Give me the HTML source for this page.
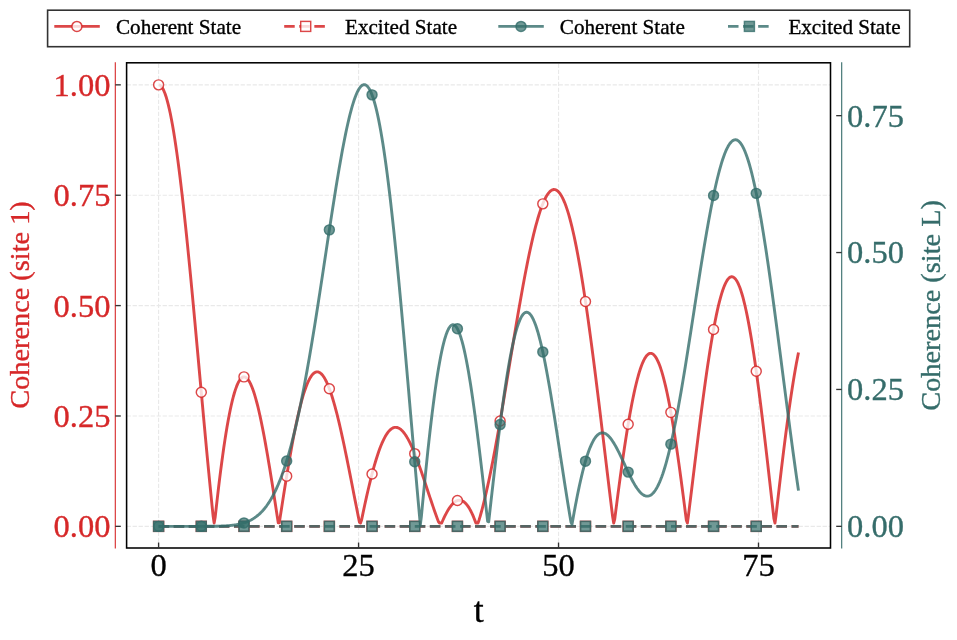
<!DOCTYPE html>
<html><head><meta charset="utf-8"><title>Coherence</title>
<style>html,body{margin:0;padding:0;background:#fff}svg{display:block}text{font-family:"Liberation Serif", "Times New Roman", serif;stroke-width:0.35px;paint-order:stroke fill}</style></head>
<body><svg width="957" height="640" viewBox="0 0 957 640">
<rect width="957" height="640" fill="#fff"/>
<g stroke="#e9e9e9" stroke-width="1.13" stroke-dasharray="4.3 1.7" fill="none">
<path d="M158.60,548.0 V62.8"/>
<path d="M358.57,548.0 V62.8"/>
<path d="M558.53,548.0 V62.8"/>
<path d="M758.50,548.0 V62.8"/>
<path d="M126.6,526.35 H830.5"/>
<path d="M126.6,415.98 H830.5"/>
<path d="M126.6,305.60 H830.5"/>
<path d="M126.6,195.23 H830.5"/>
<path d="M126.6,84.85 H830.5"/>
</g>
<g fill="none" stroke-linejoin="round" stroke-linecap="butt" stroke-width="2.9">
<path d="M158.60,84.85 L159.67,85.09 L160.74,85.82 L161.80,87.04 L162.87,88.74 L163.94,90.92 L165.01,93.57 L166.08,96.70 L167.15,100.29 L168.21,104.35 L169.28,108.86 L170.35,113.81 L171.42,119.20 L172.49,125.01 L173.56,131.25 L174.62,137.89 L175.69,144.92 L176.76,152.34 L177.83,160.12 L178.90,168.27 L179.97,176.75 L181.03,185.56 L182.10,194.69 L183.17,204.11 L184.24,213.82 L185.31,223.78 L186.38,234.00 L187.44,244.44 L188.51,255.10 L189.58,265.95 L190.65,276.97 L191.72,288.16 L192.78,299.48 L193.85,310.92 L194.92,322.46 L195.99,334.08 L197.06,345.77 L198.13,357.50 L199.19,369.25 L200.26,381.00 L201.33,392.75 L202.40,404.45 L203.47,416.11 L204.54,427.70 L205.60,439.19 L206.67,450.58 L207.74,461.84 L208.81,472.96 L209.88,483.92 L210.95,494.71 L212.01,505.30 L213.08,515.68 L214.15,523.04 L215.22,516.94 L216.29,507.28 L217.36,497.88 L218.42,488.77 L219.49,479.94 L220.56,471.42 L221.63,463.22 L222.70,455.35 L223.76,447.81 L224.83,440.63 L225.90,433.79 L226.97,427.32 L228.04,421.22 L229.11,415.50 L230.17,410.17 L231.24,405.21 L232.31,400.66 L233.38,396.50 L234.45,392.73 L235.52,389.37 L236.58,386.41 L237.65,383.85 L238.72,381.69 L239.79,379.93 L240.86,378.58 L241.93,377.62 L242.99,377.05 L244.06,376.87 L245.13,377.08 L246.20,377.66 L247.27,378.62 L248.33,379.95 L249.40,381.63 L250.47,383.67 L251.54,386.05 L252.61,388.76 L253.68,391.80 L254.74,395.15 L255.81,398.80 L256.88,402.75 L257.95,406.98 L259.02,411.48 L260.09,416.23 L261.15,421.23 L262.22,426.45 L263.29,431.90 L264.36,437.55 L265.43,443.38 L266.50,449.40 L267.56,455.57 L268.63,461.89 L269.70,468.34 L270.77,474.91 L271.84,481.58 L272.91,488.33 L273.97,495.16 L275.04,502.04 L276.11,508.97 L277.18,515.92 L278.25,522.89 L279.31,522.85 L280.38,515.90 L281.45,508.99 L282.52,502.12 L283.59,495.31 L284.66,488.57 L285.72,481.92 L286.79,475.37 L287.86,468.93 L288.93,462.62 L290.00,456.44 L291.07,450.41 L292.13,444.53 L293.20,438.83 L294.27,433.31 L295.34,427.98 L296.41,422.85 L297.48,417.92 L298.54,413.22 L299.61,408.74 L300.68,404.49 L301.75,400.47 L302.82,396.71 L303.89,393.19 L304.95,389.93 L306.02,386.93 L307.09,384.20 L308.16,381.73 L309.23,379.54 L310.29,377.61 L311.36,375.97 L312.43,374.60 L313.50,373.50 L314.57,372.69 L315.64,372.15 L316.70,371.88 L317.77,371.89 L318.84,372.17 L319.91,372.72 L320.98,373.54 L322.05,374.62 L323.11,375.96 L324.18,377.55 L325.25,379.39 L326.32,381.48 L327.39,383.80 L328.46,386.35 L329.52,389.13 L330.59,392.13 L331.66,395.33 L332.73,398.74 L333.80,402.34 L334.87,406.13 L335.93,410.10 L337.00,414.23 L338.07,418.52 L339.14,422.96 L340.21,427.54 L341.27,432.25 L342.34,437.08 L343.41,442.02 L344.48,447.06 L345.55,452.19 L346.62,457.40 L347.68,462.68 L348.75,468.01 L349.82,473.39 L350.89,478.80 L351.96,484.25 L353.03,489.71 L354.09,495.17 L355.16,500.63 L356.23,506.07 L357.30,511.49 L358.37,516.87 L359.44,522.21 L360.50,523.04 L361.57,519.99 L362.64,514.84 L363.71,509.78 L364.78,504.80 L365.85,499.93 L366.91,495.16 L367.98,490.51 L369.05,485.98 L370.12,481.58 L371.19,477.32 L372.25,473.20 L373.32,469.22 L374.39,465.41 L375.46,461.75 L376.53,458.26 L377.60,454.95 L378.66,451.80 L379.73,448.84 L380.80,446.06 L381.87,443.46 L382.94,441.05 L384.01,438.84 L385.07,436.81 L386.14,434.98 L387.21,433.35 L388.28,431.91 L389.35,430.67 L390.42,429.63 L391.48,428.78 L392.55,428.13 L393.62,427.67 L394.69,427.40 L395.76,427.33 L396.83,427.44 L397.89,427.74 L398.96,428.22 L400.03,428.89 L401.10,429.72 L402.17,430.73 L403.23,431.90 L404.30,433.24 L405.37,434.73 L406.44,436.38 L407.51,438.17 L408.58,440.10 L409.64,442.17 L410.71,444.36 L411.78,446.67 L412.85,449.10 L413.92,451.64 L414.99,454.28 L416.05,457.01 L417.12,459.82 L418.19,462.71 L419.26,465.68 L420.33,468.70 L421.40,471.78 L422.46,474.91 L423.53,478.07 L424.60,481.26 L425.67,484.48 L426.74,487.71 L427.80,490.94 L428.87,494.17 L429.94,497.39 L431.01,500.58 L432.08,503.75 L433.15,506.89 L434.21,509.98 L435.28,513.02 L436.35,515.99 L437.42,518.90 L438.49,521.74 L439.56,523.04 L440.62,523.04 L441.69,522.98 L442.76,520.52 L443.83,518.17 L444.90,515.94 L445.97,513.83 L447.03,511.86 L448.10,510.02 L449.17,508.32 L450.24,506.76 L451.31,505.36 L452.38,504.12 L453.44,503.04 L454.51,502.13 L455.58,501.39 L456.65,500.82 L457.72,500.43 L458.78,500.22 L459.85,500.19 L460.92,500.36 L461.99,500.71 L463.06,501.25 L464.13,501.99 L465.19,502.92 L466.26,504.04 L467.33,505.37 L468.40,506.89 L469.47,508.60 L470.54,510.52 L471.60,512.62 L472.67,514.93 L473.74,517.43 L474.81,520.12 L475.88,523.00 L476.95,523.04 L478.01,523.04 L479.08,519.93 L480.15,516.30 L481.22,512.50 L482.29,508.53 L483.36,504.39 L484.42,500.08 L485.49,495.60 L486.56,490.97 L487.63,486.19 L488.70,481.26 L489.76,476.19 L490.83,470.99 L491.90,465.65 L492.97,460.19 L494.04,454.61 L495.11,448.92 L496.17,443.13 L497.24,437.24 L498.31,431.25 L499.38,425.19 L500.45,419.04 L501.52,412.83 L502.58,406.56 L503.65,400.23 L504.72,393.86 L505.79,387.45 L506.86,381.01 L507.93,374.55 L508.99,368.08 L510.06,361.60 L511.13,355.12 L512.20,348.66 L513.27,342.22 L514.34,335.80 L515.40,329.42 L516.47,323.09 L517.54,316.81 L518.61,310.60 L519.68,304.45 L520.74,298.39 L521.81,292.41 L522.88,286.52 L523.95,280.74 L525.02,275.07 L526.09,269.52 L527.15,264.10 L528.22,258.81 L529.29,253.67 L530.36,248.68 L531.43,243.84 L532.50,239.17 L533.56,234.67 L534.63,230.34 L535.70,226.21 L536.77,222.26 L537.84,218.51 L538.91,214.97 L539.97,211.63 L541.04,208.51 L542.11,205.61 L543.18,202.94 L544.25,200.49 L545.32,198.28 L546.38,196.31 L547.45,194.59 L548.52,193.11 L549.59,191.88 L550.66,190.91 L551.72,190.19 L552.79,189.74 L553.86,189.54 L554.93,189.62 L556.00,189.95 L557.07,190.56 L558.13,191.43 L559.20,192.57 L560.27,193.98 L561.34,195.67 L562.41,197.62 L563.48,199.84 L564.54,202.33 L565.61,205.09 L566.68,208.11 L567.75,211.40 L568.82,214.95 L569.89,218.76 L570.95,222.82 L572.02,227.14 L573.09,231.71 L574.16,236.52 L575.23,241.58 L576.30,246.87 L577.36,252.40 L578.43,258.15 L579.50,264.12 L580.57,270.31 L581.64,276.71 L582.70,283.31 L583.77,290.11 L584.84,297.10 L585.91,304.27 L586.98,311.62 L588.05,319.13 L589.11,326.80 L590.18,334.63 L591.25,342.59 L592.32,350.69 L593.39,358.91 L594.46,367.24 L595.52,375.68 L596.59,384.21 L597.66,392.83 L598.73,401.53 L599.80,410.29 L600.87,419.10 L601.93,427.96 L603.00,436.85 L604.07,445.76 L605.14,454.68 L606.21,463.60 L607.27,472.52 L608.34,481.40 L609.41,490.26 L610.48,499.07 L611.55,507.83 L612.62,516.51 L613.68,523.04 L614.75,519.06 L615.82,510.64 L616.89,502.34 L617.96,494.16 L619.03,486.11 L620.09,478.21 L621.16,470.46 L622.23,462.88 L623.30,455.48 L624.37,448.27 L625.44,441.25 L626.50,434.44 L627.57,427.85 L628.64,421.48 L629.71,415.35 L630.78,409.46 L631.85,403.83 L632.91,398.46 L633.98,393.36 L635.05,388.53 L636.12,383.99 L637.19,379.74 L638.25,375.78 L639.32,372.13 L640.39,368.79 L641.46,365.76 L642.53,363.06 L643.60,360.67 L644.66,358.62 L645.73,356.89 L646.80,355.50 L647.87,354.45 L648.94,353.74 L650.01,353.37 L651.07,353.33 L652.14,353.64 L653.21,354.30 L654.28,355.29 L655.35,356.63 L656.42,358.30 L657.48,360.31 L658.55,362.66 L659.62,365.33 L660.69,368.34 L661.76,371.66 L662.83,375.31 L663.89,379.27 L664.96,383.53 L666.03,388.10 L667.10,392.96 L668.17,398.11 L669.23,403.54 L670.30,409.23 L671.37,415.19 L672.44,421.41 L673.51,427.86 L674.58,434.55 L675.64,441.46 L676.71,448.58 L677.78,455.90 L678.85,463.41 L679.92,471.10 L680.99,478.95 L682.05,486.95 L683.12,495.08 L684.19,503.34 L685.26,511.72 L686.33,520.18 L687.40,523.04 L688.46,515.35 L689.53,506.68 L690.60,497.97 L691.67,489.23 L692.74,480.49 L693.81,471.75 L694.87,463.04 L695.94,454.36 L697.01,445.73 L698.08,437.17 L699.15,428.68 L700.21,420.30 L701.28,412.02 L702.35,403.87 L703.42,395.86 L704.49,388.01 L705.56,380.32 L706.62,372.82 L707.69,365.51 L708.76,358.41 L709.83,351.53 L710.90,344.89 L711.97,338.49 L713.03,332.36 L714.10,326.49 L715.17,320.90 L716.24,315.61 L717.31,310.62 L718.38,305.94 L719.44,301.58 L720.51,297.55 L721.58,293.85 L722.65,290.50 L723.72,287.51 L724.79,284.86 L725.85,282.59 L726.92,280.68 L727.99,279.14 L729.06,277.98 L730.13,277.19 L731.19,276.79 L732.26,276.77 L733.33,277.13 L734.40,277.88 L735.47,279.01 L736.54,280.52 L737.60,282.41 L738.67,284.68 L739.74,287.33 L740.81,290.35 L741.88,293.73 L742.95,297.47 L744.01,301.57 L745.08,306.01 L746.15,310.80 L747.22,315.92 L748.29,321.37 L749.36,327.13 L750.42,333.20 L751.49,339.56 L752.56,346.21 L753.63,353.13 L754.70,360.32 L755.77,367.75 L756.83,375.43 L757.90,383.32 L758.97,391.43 L760.04,399.74 L761.11,408.22 L762.17,416.88 L763.24,425.69 L764.31,434.63 L765.38,443.70 L766.45,452.88 L767.52,462.14 L768.58,471.48 L769.65,480.88 L770.72,490.32 L771.79,499.79 L772.86,509.27 L773.93,518.74 L774.99,523.04 L776.06,515.10 L777.13,505.75 L778.20,496.46 L779.27,487.27 L780.34,478.17 L781.40,469.19 L782.47,460.35 L783.54,451.65 L784.61,443.11 L785.68,434.75 L786.74,426.57 L787.81,418.60 L788.88,410.85 L789.95,403.32 L791.02,396.03 L792.09,388.99 L793.15,382.21 L794.22,375.71 L795.29,369.48 L796.36,363.55 L797.43,357.91 L798.50,352.58" stroke="#d62728" stroke-opacity="0.85"/>
<path d="M158.60,526.35 H798.50" stroke="#d62728" stroke-opacity="0.85" stroke-dasharray="10.52 4.55"/>
</g>
<g fill="#fff" fill-opacity="0.8" stroke="#d62728" stroke-opacity="0.85" stroke-width="1.45">
<circle cx="158.60" cy="84.85" r="5.0"/>
<circle cx="201.29" cy="392.29" r="5.0"/>
<circle cx="243.98" cy="376.87" r="5.0"/>
<circle cx="286.67" cy="476.14" r="5.0"/>
<circle cx="329.36" cy="388.68" r="5.0"/>
<circle cx="372.05" cy="473.99" r="5.0"/>
<circle cx="414.73" cy="453.65" r="5.0"/>
<circle cx="457.42" cy="500.52" r="5.0"/>
<circle cx="500.11" cy="420.98" r="5.0"/>
<circle cx="542.80" cy="203.85" r="5.0"/>
<circle cx="585.49" cy="301.44" r="5.0"/>
<circle cx="628.18" cy="424.20" r="5.0"/>
<circle cx="670.87" cy="412.36" r="5.0"/>
<circle cx="713.56" cy="329.44" r="5.0"/>
<circle cx="756.25" cy="371.19" r="5.0"/>
<rect x="153.60" y="521.35" width="10" height="10"/>
<rect x="196.29" y="521.35" width="10" height="10"/>
<rect x="238.98" y="521.35" width="10" height="10"/>
<rect x="281.67" y="521.35" width="10" height="10"/>
<rect x="324.36" y="521.35" width="10" height="10"/>
<rect x="367.05" y="521.35" width="10" height="10"/>
<rect x="409.73" y="521.35" width="10" height="10"/>
<rect x="452.42" y="521.35" width="10" height="10"/>
<rect x="495.11" y="521.35" width="10" height="10"/>
<rect x="537.80" y="521.35" width="10" height="10"/>
<rect x="580.49" y="521.35" width="10" height="10"/>
<rect x="623.18" y="521.35" width="10" height="10"/>
<rect x="665.87" y="521.35" width="10" height="10"/>
<rect x="708.56" y="521.35" width="10" height="10"/>
<rect x="751.25" y="521.35" width="10" height="10"/>
</g>
<g fill="none" stroke-linejoin="round" stroke-linecap="butt" stroke-width="2.9">
<path d="M158.60,526.35 L159.67,526.35 L160.74,526.35 L161.80,526.35 L162.87,526.35 L163.94,526.35 L165.01,526.35 L166.08,526.35 L167.15,526.35 L168.21,526.35 L169.28,526.35 L170.35,526.35 L171.42,526.35 L172.49,526.35 L173.56,526.35 L174.62,526.35 L175.69,526.35 L176.76,526.35 L177.83,526.35 L178.90,526.35 L179.97,526.35 L181.03,526.35 L182.10,526.35 L183.17,526.35 L184.24,526.35 L185.31,526.35 L186.38,526.35 L187.44,526.35 L188.51,526.35 L189.58,526.35 L190.65,526.35 L191.72,526.35 L192.78,526.35 L193.85,526.35 L194.92,526.35 L195.99,526.35 L197.06,526.35 L198.13,526.34 L199.19,526.34 L200.26,526.34 L201.33,526.34 L202.40,526.34 L203.47,526.33 L204.54,526.33 L205.60,526.33 L206.67,526.32 L207.74,526.32 L208.81,526.31 L209.88,526.30 L210.95,526.29 L212.01,526.28 L213.08,526.27 L214.15,526.25 L215.22,526.23 L216.29,526.21 L217.36,526.19 L218.42,526.16 L219.49,526.13 L220.56,526.10 L221.63,526.06 L222.70,526.02 L223.76,525.97 L224.83,525.91 L225.90,525.85 L226.97,525.78 L228.04,525.70 L229.11,525.62 L230.17,525.52 L231.24,525.41 L232.31,525.29 L233.38,525.16 L234.45,525.02 L235.52,524.86 L236.58,524.68 L237.65,524.48 L238.72,524.27 L239.79,524.04 L240.86,523.78 L241.93,523.51 L242.99,523.20 L244.06,522.87 L245.13,522.51 L246.20,522.13 L247.27,521.71 L248.33,521.25 L249.40,520.76 L250.47,520.23 L251.54,519.66 L252.61,519.05 L253.68,518.39 L254.74,517.69 L255.81,516.93 L256.88,516.12 L257.95,515.25 L259.02,514.33 L260.09,513.35 L261.15,512.30 L262.22,511.19 L263.29,510.00 L264.36,508.75 L265.43,507.41 L266.50,506.01 L267.56,504.51 L268.63,502.94 L269.70,501.28 L270.77,499.53 L271.84,497.68 L272.91,495.74 L273.97,493.70 L275.04,491.56 L276.11,489.31 L277.18,486.96 L278.25,484.49 L279.31,481.92 L280.38,479.23 L281.45,476.42 L282.52,473.49 L283.59,470.44 L284.66,467.27 L285.72,463.97 L286.79,460.54 L287.86,456.98 L288.93,453.30 L290.00,449.48 L291.07,445.53 L292.13,441.44 L293.20,437.22 L294.27,432.87 L295.34,428.38 L296.41,423.76 L297.48,419.01 L298.54,414.12 L299.61,409.09 L300.68,403.94 L301.75,398.66 L302.82,393.25 L303.89,387.71 L304.95,382.06 L306.02,376.28 L307.09,370.38 L308.16,364.37 L309.23,358.25 L310.29,352.03 L311.36,345.70 L312.43,339.28 L313.50,332.77 L314.57,326.17 L315.64,319.50 L316.70,312.75 L317.77,305.93 L318.84,299.05 L319.91,292.12 L320.98,285.15 L322.05,278.14 L323.11,271.10 L324.18,264.04 L325.25,256.97 L326.32,249.90 L327.39,242.84 L328.46,235.79 L329.52,228.78 L330.59,221.79 L331.66,214.86 L332.73,207.99 L333.80,201.18 L334.87,194.46 L335.93,187.83 L337.00,181.30 L338.07,174.88 L339.14,168.59 L340.21,162.44 L341.27,156.44 L342.34,150.60 L343.41,144.93 L344.48,139.44 L345.55,134.15 L346.62,129.07 L347.68,124.21 L348.75,119.58 L349.82,115.19 L350.89,111.05 L351.96,107.17 L353.03,103.57 L354.09,100.25 L355.16,97.22 L356.23,94.50 L357.30,92.09 L358.37,90.01 L359.44,88.25 L360.50,86.83 L361.57,85.76 L362.64,85.04 L363.71,84.68 L364.78,84.69 L365.85,85.07 L366.91,85.83 L367.98,86.96 L369.05,88.49 L370.12,90.40 L371.19,92.71 L372.25,95.41 L373.32,98.51 L374.39,102.00 L375.46,105.89 L376.53,110.17 L377.60,114.85 L378.66,119.92 L379.73,125.38 L380.80,131.22 L381.87,137.45 L382.94,144.05 L384.01,151.02 L385.07,158.36 L386.14,166.06 L387.21,174.10 L388.28,182.49 L389.35,191.20 L390.42,200.24 L391.48,209.59 L392.55,219.24 L393.62,229.17 L394.69,239.38 L395.76,249.85 L396.83,260.56 L397.89,271.51 L398.96,282.68 L400.03,294.04 L401.10,305.60 L402.17,317.32 L403.23,329.19 L404.30,341.20 L405.37,353.33 L406.44,365.55 L407.51,377.86 L408.58,390.22 L409.64,402.63 L410.71,415.06 L411.78,427.49 L412.85,439.91 L413.92,452.30 L414.99,464.63 L416.05,476.88 L417.12,489.04 L418.19,501.08 L419.26,513.00 L420.33,524.71 L421.40,516.36 L422.46,504.96 L423.53,493.77 L424.60,482.81 L425.67,472.09 L426.74,461.64 L427.80,451.47 L428.87,441.59 L429.94,432.03 L431.01,422.79 L432.08,413.90 L433.15,405.37 L434.21,397.20 L435.28,389.42 L436.35,382.04 L437.42,375.07 L438.49,368.51 L439.56,362.38 L440.62,356.69 L441.69,351.45 L442.76,346.66 L443.83,342.33 L444.90,338.47 L445.97,335.08 L447.03,332.16 L448.10,329.73 L449.17,327.77 L450.24,326.29 L451.31,325.29 L452.38,324.78 L453.44,324.74 L454.51,325.18 L455.58,326.09 L456.65,327.47 L457.72,329.32 L458.78,331.62 L459.85,334.36 L460.92,337.55 L461.99,341.17 L463.06,345.21 L464.13,349.66 L465.19,354.51 L466.26,359.75 L467.33,365.37 L468.40,371.34 L469.47,377.66 L470.54,384.31 L471.60,391.27 L472.67,398.54 L473.74,406.08 L474.81,413.90 L475.88,421.95 L476.95,430.24 L478.01,438.74 L479.08,447.42 L480.15,456.28 L481.22,465.29 L482.29,474.43 L483.36,483.69 L484.42,493.04 L485.49,502.46 L486.56,511.93 L487.63,521.43 L488.70,521.76 L489.76,512.25 L490.83,502.78 L491.90,493.35 L492.97,484.00 L494.04,474.73 L495.11,465.56 L496.17,456.52 L497.24,447.63 L498.31,438.90 L499.38,430.34 L500.45,421.98 L501.52,413.84 L502.58,405.92 L503.65,398.24 L504.72,390.82 L505.79,383.67 L506.86,376.81 L507.93,370.25 L508.99,363.99 L510.06,358.05 L511.13,352.44 L512.20,347.17 L513.27,342.25 L514.34,337.69 L515.40,333.48 L516.47,329.65 L517.54,326.19 L518.61,323.10 L519.68,320.40 L520.74,318.08 L521.81,316.15 L522.88,314.60 L523.95,313.44 L525.02,312.67 L526.09,312.27 L527.15,312.26 L528.22,312.63 L529.29,313.37 L530.36,314.48 L531.43,315.95 L532.50,317.77 L533.56,319.95 L534.63,322.46 L535.70,325.31 L536.77,328.48 L537.84,331.96 L538.91,335.75 L539.97,339.82 L541.04,344.17 L542.11,348.79 L543.18,353.67 L544.25,358.79 L545.32,364.13 L546.38,369.69 L547.45,375.44 L548.52,381.39 L549.59,387.50 L550.66,393.77 L551.72,400.17 L552.79,406.71 L553.86,413.35 L554.93,420.09 L556.00,426.90 L557.07,433.78 L558.13,440.70 L559.20,447.66 L560.27,454.64 L561.34,461.61 L562.41,468.58 L563.48,475.51 L564.54,482.41 L565.61,489.25 L566.68,496.01 L567.75,502.70 L568.82,509.29 L569.89,515.77 L570.95,522.13 L572.02,524.34 L573.09,518.25 L574.16,512.32 L575.23,506.56 L576.30,500.96 L577.36,495.55 L578.43,490.34 L579.50,485.32 L580.57,480.50 L581.64,475.90 L582.70,471.52 L583.77,467.36 L584.84,463.43 L585.91,459.74 L586.98,456.28 L588.05,453.05 L589.11,450.07 L590.18,447.33 L591.25,444.83 L592.32,442.58 L593.39,440.56 L594.46,438.79 L595.52,437.25 L596.59,435.95 L597.66,434.88 L598.73,434.04 L599.80,433.42 L600.87,433.02 L601.93,432.84 L603.00,432.86 L604.07,433.09 L605.14,433.51 L606.21,434.11 L607.27,434.90 L608.34,435.85 L609.41,436.97 L610.48,438.24 L611.55,439.65 L612.62,441.20 L613.68,442.87 L614.75,444.65 L615.82,446.53 L616.89,448.51 L617.96,450.56 L619.03,452.69 L620.09,454.87 L621.16,457.10 L622.23,459.37 L623.30,461.66 L624.37,463.96 L625.44,466.26 L626.50,468.55 L627.57,470.82 L628.64,473.06 L629.71,475.26 L630.78,477.39 L631.85,479.47 L632.91,481.46 L633.98,483.37 L635.05,485.19 L636.12,486.89 L637.19,488.49 L638.25,489.95 L639.32,491.28 L640.39,492.47 L641.46,493.51 L642.53,494.38 L643.60,495.10 L644.66,495.63 L645.73,495.99 L646.80,496.16 L647.87,496.14 L648.94,495.93 L650.01,495.51 L651.07,494.89 L652.14,494.05 L653.21,493.01 L654.28,491.74 L655.35,490.26 L656.42,488.56 L657.48,486.64 L658.55,484.50 L659.62,482.14 L660.69,479.55 L661.76,476.74 L662.83,473.72 L663.89,470.47 L664.96,467.01 L666.03,463.34 L667.10,459.46 L668.17,455.37 L669.23,451.08 L670.30,446.60 L671.37,441.92 L672.44,437.05 L673.51,432.01 L674.58,426.79 L675.64,421.40 L676.71,415.85 L677.78,410.15 L678.85,404.31 L679.92,398.32 L680.99,392.21 L682.05,385.98 L683.12,379.63 L684.19,373.19 L685.26,366.65 L686.33,360.03 L687.40,353.33 L688.46,346.57 L689.53,339.76 L690.60,332.91 L691.67,326.02 L692.74,319.12 L693.81,312.20 L694.87,305.28 L695.94,298.38 L697.01,291.49 L698.08,284.64 L699.15,277.83 L700.21,271.08 L701.28,264.39 L702.35,257.78 L703.42,251.25 L704.49,244.82 L705.56,238.50 L706.62,232.29 L707.69,226.21 L708.76,220.27 L709.83,214.47 L710.90,208.83 L711.97,203.36 L713.03,198.06 L714.10,192.94 L715.17,188.02 L716.24,183.29 L717.31,178.78 L718.38,174.48 L719.44,170.40 L720.51,166.55 L721.58,162.93 L722.65,159.56 L723.72,156.44 L724.79,153.57 L725.85,150.96 L726.92,148.62 L727.99,146.54 L729.06,144.73 L730.13,143.20 L731.19,141.95 L732.26,140.98 L733.33,140.29 L734.40,139.89 L735.47,139.77 L736.54,139.94 L737.60,140.41 L738.67,141.16 L739.74,142.20 L740.81,143.52 L741.88,145.14 L742.95,147.04 L744.01,149.22 L745.08,151.68 L746.15,154.43 L747.22,157.44 L748.29,160.73 L749.36,164.29 L750.42,168.11 L751.49,172.19 L752.56,176.52 L753.63,181.11 L754.70,185.93 L755.77,190.99 L756.83,196.28 L757.90,201.80 L758.97,207.53 L760.04,213.47 L761.11,219.62 L762.17,225.95 L763.24,232.48 L764.31,239.18 L765.38,246.05 L766.45,253.08 L767.52,260.26 L768.58,267.58 L769.65,275.04 L770.72,282.62 L771.79,290.31 L772.86,298.11 L773.93,306.00 L774.99,313.97 L776.06,322.02 L777.13,330.14 L778.20,338.30 L779.27,346.52 L780.34,354.76 L781.40,363.03 L782.47,371.32 L783.54,379.60 L784.61,387.89 L785.68,396.15 L786.74,404.39 L787.81,412.60 L788.88,420.76 L789.95,428.86 L791.02,436.90 L792.09,444.87 L793.15,452.75 L794.22,460.55 L795.29,468.24 L796.36,475.83 L797.43,483.30 L798.50,490.64" stroke="#336d6a" stroke-opacity="0.8"/>
<path d="M158.60,526.35 H798.50" stroke="#336d6a" stroke-opacity="0.8" stroke-dasharray="10.52 4.55"/>
</g>
<g fill="#336d6a" fill-opacity="0.7" stroke="#336d6a" stroke-opacity="0.8" stroke-width="1.45">
<circle cx="158.60" cy="526.35" r="5.0"/>
<circle cx="201.29" cy="526.34" r="5.0"/>
<circle cx="243.98" cy="522.90" r="5.0"/>
<circle cx="286.67" cy="460.95" r="5.0"/>
<circle cx="329.36" cy="229.87" r="5.0"/>
<circle cx="372.05" cy="94.85" r="5.0"/>
<circle cx="414.73" cy="461.73" r="5.0"/>
<circle cx="457.42" cy="328.77" r="5.0"/>
<circle cx="500.11" cy="424.58" r="5.0"/>
<circle cx="542.80" cy="351.92" r="5.0"/>
<circle cx="585.49" cy="461.16" r="5.0"/>
<circle cx="628.18" cy="472.10" r="5.0"/>
<circle cx="670.87" cy="444.14" r="5.0"/>
<circle cx="713.56" cy="195.53" r="5.0"/>
<circle cx="756.25" cy="193.35" r="5.0"/>
<rect x="153.60" y="521.35" width="10" height="10"/>
<rect x="196.29" y="521.35" width="10" height="10"/>
<rect x="238.98" y="521.35" width="10" height="10"/>
<rect x="281.67" y="521.35" width="10" height="10"/>
<rect x="324.36" y="521.35" width="10" height="10"/>
<rect x="367.05" y="521.35" width="10" height="10"/>
<rect x="409.73" y="521.35" width="10" height="10"/>
<rect x="452.42" y="521.35" width="10" height="10"/>
<rect x="495.11" y="521.35" width="10" height="10"/>
<rect x="537.80" y="521.35" width="10" height="10"/>
<rect x="580.49" y="521.35" width="10" height="10"/>
<rect x="623.18" y="521.35" width="10" height="10"/>
<rect x="665.87" y="521.35" width="10" height="10"/>
<rect x="708.56" y="521.35" width="10" height="10"/>
<rect x="751.25" y="521.35" width="10" height="10"/>
</g>
<rect x="126.6" y="62.8" width="703.90" height="485.20" fill="none" stroke="#000" stroke-width="1.55"/>
<path d="M115.3,62.199999999999996 V548.6" stroke="#d62728" stroke-width="1.1"/>
<path d="M841.7,62.199999999999996 V548.6" stroke="#356c6a" stroke-width="1.1"/>
<g stroke="#333" stroke-width="1.35">
<path d="M158.60,548.0 v-5.5"/>
<path d="M358.57,548.0 v-5.5"/>
<path d="M558.53,548.0 v-5.5"/>
<path d="M758.50,548.0 v-5.5"/>
<path d="M115.3,526.35 h5.5"/>
<path d="M115.3,415.98 h5.5"/>
<path d="M115.3,305.60 h5.5"/>
<path d="M115.3,195.23 h5.5"/>
<path d="M115.3,84.85 h5.5"/>
<path d="M841.7,526.35 h-5.5"/>
<path d="M841.7,389.45 h-5.5"/>
<path d="M841.7,252.55 h-5.5"/>
<path d="M841.7,115.65 h-5.5"/>
</g>
<g font-size="32.5">
<text x="158.60" y="576.4" text-anchor="middle" fill="#000" stroke="#000">0</text>
<text x="358.57" y="576.4" text-anchor="middle" fill="#000" stroke="#000">25</text>
<text x="558.53" y="576.4" text-anchor="middle" fill="#000" stroke="#000">50</text>
<text x="758.50" y="576.4" text-anchor="middle" fill="#000" stroke="#000">75</text>
<text x="110.4" y="537.25" text-anchor="end" fill="#d62728" stroke="#d62728">0.00</text>
<text x="110.4" y="426.88" text-anchor="end" fill="#d62728" stroke="#d62728">0.25</text>
<text x="110.4" y="316.50" text-anchor="end" fill="#d62728" stroke="#d62728">0.50</text>
<text x="110.4" y="206.13" text-anchor="end" fill="#d62728" stroke="#d62728">0.75</text>
<text x="110.4" y="95.75" text-anchor="end" fill="#d62728" stroke="#d62728">1.00</text>
<text x="847" y="537.25" text-anchor="start" fill="#356c6a" stroke="#356c6a">0.00</text>
<text x="847" y="400.35" text-anchor="start" fill="#356c6a" stroke="#356c6a">0.25</text>
<text x="847" y="263.45" text-anchor="start" fill="#356c6a" stroke="#356c6a">0.50</text>
<text x="847" y="126.55" text-anchor="start" fill="#356c6a" stroke="#356c6a">0.75</text>
</g>
<text x="478.8" y="622.0" text-anchor="middle" font-size="35.8" fill="#000" stroke="#000">t</text>
<text transform="translate(28.8,305.0) rotate(-90)" text-anchor="middle" font-size="28.3" fill="#d62728" stroke="#d62728">Coherence (site 1)</text>
<text transform="translate(940.2,305.4) rotate(-90)" text-anchor="middle" font-size="28.3" fill="#356c6a" stroke="#356c6a">Coherence (site L)</text>
<rect x="47.6" y="10.2" width="862.1" height="36.5" fill="#fff" stroke="#333" stroke-width="1.6"/>
<path d="M54.3,26.4 h45.5" stroke="#d62728" stroke-opacity="0.85" stroke-width="2.9" fill="none"/>
<circle cx="76.9" cy="26.4" r="5.0" fill="#fff" fill-opacity="0.8" stroke="#d62728" stroke-opacity="0.85" stroke-width="1.45"/>
<text x="116.0" y="33.6" font-size="21.15" fill="#000" stroke="#000" stroke-width="0.25">Coherent State</text>
<path d="M284.2,26.4 h45.1" stroke="#d62728" stroke-opacity="0.85" stroke-width="2.9" stroke-dasharray="10.52 4.55" fill="none"/>
<rect x="300.7" y="21.4" width="10.0" height="10.0" fill="#fff" fill-opacity="0.8" stroke="#d62728" stroke-opacity="0.85" stroke-width="1.45"/>
<text x="345.0" y="33.6" font-size="21.15" fill="#000" stroke="#000" stroke-width="0.25">Excited State</text>
<path d="M498.3,26.4 h45.5" stroke="#336d6a" stroke-opacity="0.8" stroke-width="2.9" fill="none"/>
<circle cx="521.0" cy="26.4" r="5.0" fill="#336d6a" fill-opacity="0.7" stroke="#336d6a" stroke-opacity="0.8" stroke-width="1.45"/>
<text x="559.8" y="33.6" font-size="21.15" fill="#000" stroke="#000" stroke-width="0.25">Coherent State</text>
<path d="M728.0,26.4 h45.1" stroke="#336d6a" stroke-opacity="0.8" stroke-width="2.9" stroke-dasharray="10.52 4.55" fill="none"/>
<rect x="744.4" y="21.4" width="10.0" height="10.0" fill="#336d6a" fill-opacity="0.7" stroke="#336d6a" stroke-opacity="0.8" stroke-width="1.45"/>
<text x="788.4" y="33.6" font-size="21.15" fill="#000" stroke="#000" stroke-width="0.25">Excited State</text>
</svg></body></html>
